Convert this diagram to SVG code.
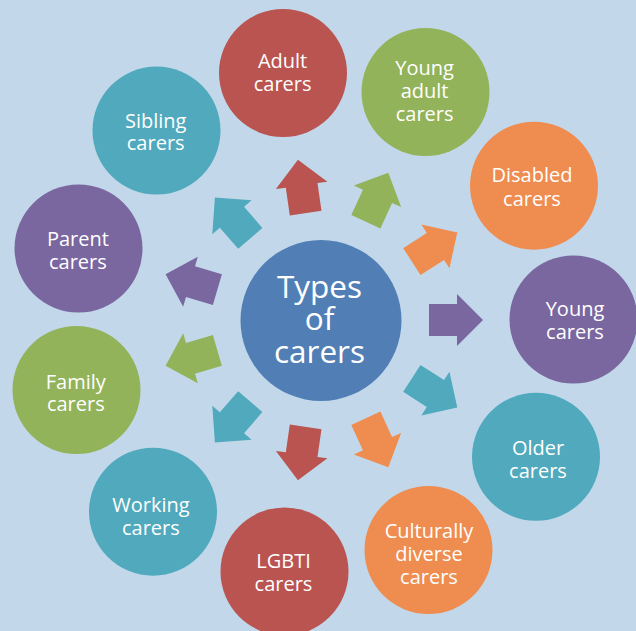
<svg xmlns="http://www.w3.org/2000/svg" width="636" height="631" viewBox="0 0 636 631">
  <style>
    .lbl { font-family: "Open Sans", "Noto Sans", "Liberation Sans", sans-serif; font-size: 20px; fill: #ffffff; text-anchor: middle; }
    .hub { font-family: "Open Sans", "Noto Sans", "Liberation Sans", sans-serif; font-size: 31.5px; fill: #ffffff; text-anchor: middle; }
    .red { fill: #b95450; }
    .green { fill: #92b35a; }
    .orange { fill: #ef8c4f; }
    .purple { fill: #7a67a0; }
    .teal { fill: #50a9bc; }
    .blue { fill: #517fb5; }
  </style>
  <defs>
    <!-- block arrow pointing along +x, starting 108px from the hub centre -->
    <polygon id="blockArrow" points="108,-16 136,-16 136,-26 162,0 136,26 136,16 108,16"/>
  </defs>

  <rect width="636" height="631" fill="#c2d8ea"/>

  <!-- connectors: arrows radiating from the hub -->
  <g id="connectors">
    <use href="#blockArrow" class="purple" transform="translate(321,320) rotate(0)"/>
    <use href="#blockArrow" class="teal" transform="translate(321,320) rotate(32.727)"/>
    <use href="#blockArrow" class="orange" transform="translate(321,320) rotate(65.455)"/>
    <use href="#blockArrow" class="red" transform="translate(321,320) rotate(98.182)"/>
    <use href="#blockArrow" class="teal" transform="translate(321,320) rotate(130.909)"/>
    <use href="#blockArrow" class="green" transform="translate(321,320) rotate(163.636)"/>
    <use href="#blockArrow" class="purple" transform="translate(321,320) rotate(-163.636)"/>
    <use href="#blockArrow" class="teal" transform="translate(321,320) rotate(-130.909)"/>
    <use href="#blockArrow" class="red" transform="translate(321,320) rotate(-98.182)"/>
    <use href="#blockArrow" class="green" transform="translate(321,320) rotate(-65.455)"/>
    <use href="#blockArrow" class="orange" transform="translate(321,320) rotate(-32.727)"/>
  </g>

  <g id="hub">
    <circle class="blue" cx="321" cy="320.5" r="80.5"/>
    <text class="hub" x="319.5" y="297.5">Types</text>
    <text class="hub" x="319.5" y="330">of</text>
    <text class="hub" x="319.5" y="362.5">carers</text>
  </g>

  <g id="adult-carers">
    <circle class="red" cx="283" cy="73" r="64"/>
    <text class="lbl" x="282.6" y="67.6">Adult</text>
    <text class="lbl" x="282.6" y="90.5">carers</text>
  </g>

  <g id="young-adult-carers">
    <circle class="green" cx="425.5" cy="92" r="64"/>
    <text class="lbl" x="424.6" y="74.8">Young</text>
    <text class="lbl" x="424.6" y="98">adult</text>
    <text class="lbl" x="424.6" y="120.7">carers</text>
  </g>

  <g id="disabled-carers">
    <circle class="orange" cx="534" cy="185.7" r="64"/>
    <text class="lbl" x="532" y="182.3">Disabled</text>
    <text class="lbl" x="532" y="206">carers</text>
  </g>

  <g id="young-carers">
    <circle class="purple" cx="573.5" cy="319.5" r="64"/>
    <text class="lbl" x="575" y="315.9">Young</text>
    <text class="lbl" x="575" y="338.5">carers</text>
  </g>

  <g id="older-carers">
    <circle class="teal" cx="536" cy="456.8" r="64"/>
    <text class="lbl" x="538" y="454.7">Older</text>
    <text class="lbl" x="538" y="477.5">carers</text>
  </g>

  <g id="culturally-diverse-carers">
    <circle class="orange" cx="428.5" cy="550" r="64"/>
    <text class="lbl" x="429" y="538.4">Culturally</text>
    <text class="lbl" x="429" y="561">diverse</text>
    <text class="lbl" x="429" y="584">carers</text>
  </g>

  <g id="lgbti-carers">
    <circle class="red" cx="284.5" cy="571.5" r="64"/>
    <text class="lbl" x="283.5" y="568">LGBTI</text>
    <text class="lbl" x="283.5" y="591.3">carers</text>
  </g>

  <g id="working-carers">
    <circle class="teal" cx="153" cy="511.7" r="64"/>
    <text class="lbl" x="150.9" y="512">Working</text>
    <text class="lbl" x="150.9" y="535.3">carers</text>
  </g>

  <g id="family-carers">
    <circle class="green" cx="76.5" cy="390" r="64"/>
    <text class="lbl" x="75.8" y="388.7">Family</text>
    <text class="lbl" x="75.8" y="411.4">carers</text>
  </g>

  <g id="parent-carers">
    <circle class="purple" cx="78.5" cy="248.5" r="64"/>
    <text class="lbl" x="77.9" y="245.5">Parent</text>
    <text class="lbl" x="77.9" y="268.8">carers</text>
  </g>

  <g id="sibling-carers">
    <circle class="teal" cx="156.5" cy="130.6" r="64"/>
    <text class="lbl" x="155.7" y="128">Sibling</text>
    <text class="lbl" x="155.7" y="150">carers</text>
  </g>
</svg>
